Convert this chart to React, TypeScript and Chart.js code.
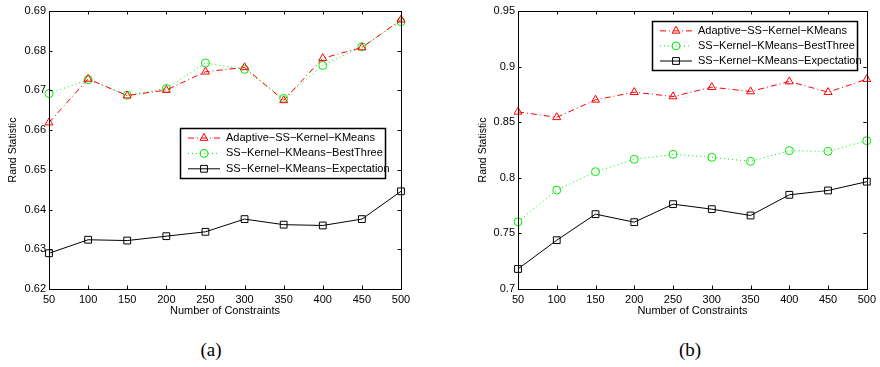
import React, { useEffect, useRef } from "react";
import { Chart, registerables } from "chart.js";

Chart.register(...registerables);

const constraints = ["50", "100", "150", "200", "250", "300", "350", "400", "450", "500"];

const seriesNames = [
  "Adaptive\u2212SS\u2212Kernel\u2212KMeans",
  "SS\u2212Kernel\u2212KMeans\u2212BestThree",
  "SS\u2212Kernel\u2212KMeans\u2212Expectation",
];

// Panel (a)
const aAdaptive = [0.6619, 0.6729, 0.6687, 0.6701, 0.6747, 0.6758, 0.6675, 0.6781, 0.6808, 0.6878];
const aBestThree = [0.6692, 0.6727, 0.6688, 0.6705, 0.6769, 0.6753, 0.668, 0.6763, 0.681, 0.6873];
const aExpectation = [0.629, 0.6324, 0.6322, 0.6333, 0.6344, 0.6376, 0.6362, 0.636, 0.6376, 0.6446];
const aTicks = { min: 0.62, max: 0.69, step: 0.01, decimals: 2 };

// Panel (b)
const bAdaptive = [0.8593, 0.8544, 0.8701, 0.877, 0.8731, 0.8815, 0.8776, 0.8866, 0.877, 0.8887];
const bBestThree = [0.7604, 0.7889, 0.8055, 0.8166, 0.8211, 0.8184, 0.8148, 0.8244, 0.8238, 0.8334];
const bExpectation = [0.718, 0.7439, 0.7673, 0.7601, 0.7763, 0.7718, 0.7661, 0.7847, 0.7886, 0.7965];
const bTicks = { min: 0.7, max: 0.95, step: 0.05, decimals: 0 };

const FONT = "'Liberation Sans', Arial, sans-serif";

const styles = [
  { color: "#ff0000", dash: [6, 3, 1, 3], point: "triangle", radius: 4.6 },
  { color: "#00ee00", dash: [1, 3], point: "circle", radius: 4 },
  { color: "#000000", dash: [] as number[], point: "rect", radius: 4.8 },
];

type Cfg = {
  data: number[][];
  ticks: { min: number; max: number; step: number; decimals: number };
  legend: { x: number; y: number; w: number; h: number };
  pad: { left: number; right: number; top: number };
  yAxisWidth: number;
};

function marker(ctx: CanvasRenderingContext2D, style: string, r: number, x: number, y: number, color: string) {
  ctx.save();
  ctx.strokeStyle = color;
  ctx.lineWidth = 1;
  ctx.setLineDash([]);
  ctx.beginPath();
  if (style === "triangle") {
    ctx.moveTo(x, y - r);
    ctx.lineTo(x + r * 0.866, y + r * 0.5);
    ctx.lineTo(x - r * 0.866, y + r * 0.5);
    ctx.closePath();
  } else if (style === "circle") {
    ctx.arc(x, y, r, 0, Math.PI * 2);
  } else {
    const s = r * Math.SQRT1_2;
    ctx.rect(x - s, y - s, 2 * s, 2 * s);
  }
  ctx.stroke();
  ctx.restore();
}

const framePlugin = {
  id: "frameTicks",
  afterDraw(chart: any) {
    const { ctx, chartArea: a } = chart;
    const xs = chart.scales.x;
    const ys = chart.scales.y;
    ctx.save();
    ctx.strokeStyle = "#000";
    ctx.lineWidth = 1;
    ctx.setLineDash([]);
    ctx.strokeRect(Math.round(a.left) + 0.5, Math.round(a.top) + 0.5, Math.round(a.right - a.left), Math.round(a.bottom - a.top));
    const tl = 3.5;
    ctx.beginPath();
    xs.ticks.forEach((_t: any, i: number) => {
      const px = Math.round(xs.getPixelForTick(i)) + 0.5;
      ctx.moveTo(px, a.bottom);
      ctx.lineTo(px, a.bottom - tl);
      ctx.moveTo(px, a.top);
      ctx.lineTo(px, a.top + tl);
    });
    ys.ticks.forEach((t: any) => {
      const py = Math.round(ys.getPixelForValue(t.value)) + 0.5;
      ctx.moveTo(a.left, py);
      ctx.lineTo(a.left + tl, py);
      ctx.moveTo(a.right, py);
      ctx.lineTo(a.right - tl, py);
    });
    ctx.stroke();

    const lg = (chart.options.plugins as any).boxLegend;
    if (lg) {
      ctx.fillStyle = "#fff";
      ctx.fillRect(lg.x, lg.y, lg.w, lg.h);
      ctx.lineWidth = 1.5;
      ctx.strokeStyle = "#000";
      ctx.strokeRect(lg.x + 0.5, lg.y + 0.5, lg.w, lg.h);
      const rowH = lg.h / 3.25;
      chart.data.datasets.forEach((ds: any, i: number) => {
        const cy = lg.y + rowH * 0.62 + i * rowH + 0.5;
        const x0 = lg.x + 8;
        const x1 = lg.x + 40;
        ctx.strokeStyle = ds.borderColor;
        ctx.lineWidth = 1;
        ctx.setLineDash(ds.borderDash || []);
        ctx.beginPath();
        ctx.moveTo(x0, cy);
        ctx.lineTo(x1, cy);
        ctx.stroke();
        ctx.setLineDash([]);
        marker(ctx, ds.pointStyle, ds.pointRadius, (x0 + x1) / 2, cy, ds.borderColor);
        ctx.fillStyle = "#000";
        ctx.font = `11px ${FONT}`;
        ctx.textBaseline = "middle";
        ctx.textAlign = "left";
        ctx.fillText(ds.label, lg.x + 46, cy);
      });
    }
    ctx.restore();
  },
};

function Panel({ cfg, left }: { cfg: Cfg; left: number }) {
  const ref = useRef<HTMLCanvasElement>(null);
  useEffect(() => {
    const canvas = ref.current!;
    const t = cfg.ticks;
    const chart = new Chart(canvas, {
      type: "line",
      data: {
        labels: constraints,
        datasets: cfg.data.map((d, i) => ({
          label: seriesNames[i],
          data: d,
          borderColor: styles[i].color,
          backgroundColor: "rgba(0,0,0,0)",
          borderWidth: 1,
          borderDash: styles[i].dash,
          pointStyle: styles[i].point as any,
          pointRadius: styles[i].radius,
          pointBorderColor: styles[i].color,
          pointBackgroundColor: "rgba(0,0,0,0)",
          pointBorderWidth: 1,
          tension: 0,
          fill: false,
        })),
      },
      options: {
        animation: false,
        responsive: false,
        maintainAspectRatio: false,
        layout: { padding: { left: cfg.pad.left, right: cfg.pad.right, top: cfg.pad.top, bottom: 12 } },
        plugins: {
          legend: { display: false },
          tooltip: { enabled: false },
          boxLegend: cfg.legend,
        } as any,
        scales: {
          x: {
            type: "category",
            offset: false,
            grid: { display: false, drawTicks: false },
            border: { display: false },
            ticks: { color: "#000", font: { family: FONT, size: 11 }, padding: 4, maxRotation: 0, autoSkip: false },
            title: { display: true, text: "Number of Constraints", color: "#000", font: { family: FONT, size: 11 }, padding: { top: 0, bottom: 0 } },
            afterFit: (s: any) => {
              s.height = 29;
            },
          },
          y: {
            type: "linear",
            min: t.min,
            max: t.max,
            grid: { display: false, drawTicks: false },
            border: { display: false },
            ticks: {
              stepSize: t.step,
              color: "#000",
              font: { family: FONT, size: 11 },
              padding: 3,
              callback: (v: any) => (t.decimals ? Number(v).toFixed(t.decimals) : String(Number(Number(v).toFixed(2)))),
            },
            title: { display: true, text: "Rand Statistic", color: "#000", font: { family: FONT, size: 10.5 }, padding: { top: 0, bottom: 2 } },
            afterFit: (s: any) => {
              s.width = cfg.yAxisWidth;
            },
          },
        },
      },
      plugins: [framePlugin],
    });
    return () => chart.destroy();
  }, []);
  return (
    <canvas
      ref={ref}
      width={440}
      height={330}
      style={{ position: "absolute", left, top: 0, width: 440, height: 330 }}
    />
  );
}

const cfgA: Cfg = {
  data: [aAdaptive, aBestThree, aExpectation],
  ticks: aTicks,
  legend: { x: 180, y: 128, w: 205, h: 50 },
  pad: { left: 7, right: 39, top: 11 },
  yAxisWidth: 42,
};

const cfgB: Cfg = {
  data: [bAdaptive, bBestThree, bExpectation],
  ticks: bTicks,
  legend: { x: 212, y: 21, w: 205, h: 49 },
  pad: { left: 37, right: 10, top: 11 },
  yAxisWidth: 41,
};

export default function App() {
  return (
    <div style={{ position: "absolute", left: 0, top: 0, width: 880, height: 367, background: "#fff" }}>
      <Panel cfg={cfgA} left={0} />
      <Panel cfg={cfgB} left={440} />
      <div style={{ position: "absolute", left: 181, width: 60, top: 338, textAlign: "center", fontFamily: "'Liberation Serif', 'DejaVu Serif', serif", fontSize: 19, lineHeight: "24px" }}>
        (a)
      </div>
      <div style={{ position: "absolute", left: 660, width: 60, top: 338, textAlign: "center", fontFamily: "'Liberation Serif', 'DejaVu Serif', serif", fontSize: 19, lineHeight: "24px" }}>
        (b)
      </div>
    </div>
  );
}
